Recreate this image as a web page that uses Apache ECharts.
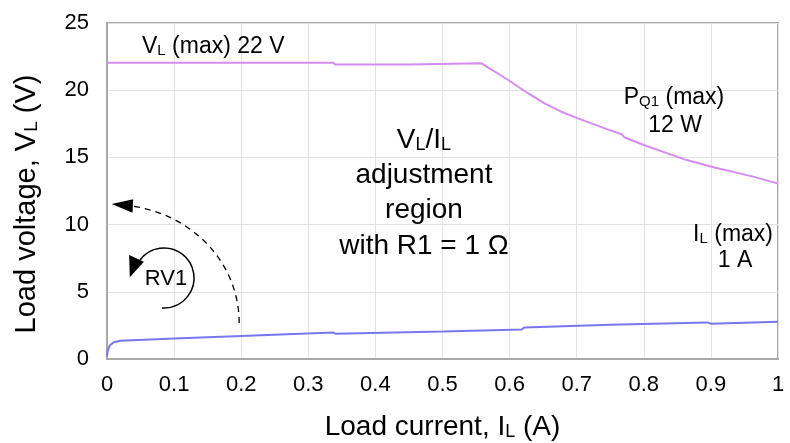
<!DOCTYPE html>
<html>
<head>
<meta charset="utf-8">
<script src="https://cdn.jsdelivr.net/npm/echarts@6/dist/echarts.min.js"></script>
<style>
  html, body { margin: 0; padding: 0; background: #fff; }
  #chart { width: 790px; height: 443px; }
</style>
</head>
<body>
<div id="chart"></div>
<script>
// load current (A) vs load voltage (V)
const vMaxCurrent = [0, 0.1, 0.2, 0.337, 0.34, 0.45, 0.558, 0.598, 0.625, 0.652, 0.677, 0.702, 0.745, 0.767, 0.771, 0.8, 0.864, 0.901, 0.963, 1]
const vMaxVoltage = [22.05, 22.05, 22.05, 22.05, 21.92, 21.92, 22.0, 20.76, 19.85, 19.02, 18.4, 17.9, 17.1, 16.72, 16.5, 15.92, 14.8, 14.3, 13.57, 13.05]

const vMinCurrent = [0, 0.001, 0.004, 0.01, 0.02, 0.1, 0.2, 0.337, 0.34, 0.5, 0.618, 0.622, 0.75, 0.895, 0.9, 1]
const vMinVoltage = [0.2, 0.6, 1.0, 1.25, 1.36, 1.52, 1.72, 1.98, 1.88, 2.05, 2.2, 2.35, 2.55, 2.72, 2.62, 2.78]

const xMin = 0
const xMax = 1
const xStep = 0.1
const yMin = 0
const yMax = 25
const yStep = 5

const font = 'Liberation Sans'
const frameColor = '#a8a8a8'
const gridColor = '#e2e2e2'

const zip = (xs, ys) => xs.map((x, i) => [x, ys[i]])

const chart = echarts.init(document.getElementById('chart'), null, { renderer: 'canvas' })

const subRich = (size) => ({
  s: { fontSize: size, fontFamily: font, color: '#000', verticalAlign: 'bottom' }
})

chart.setOption({
  animation: false,
  backgroundColor: '#fff',
  grid: {
    left: 107,
    right: 12,
    top: 23,
    bottom: 84,
    outerBoundsMode: 'none',
    containLabel: false,
    show: true,
    borderColor: frameColor,
    borderWidth: 2
  },
  xAxis: {
    type: 'value',
    min: xMin,
    max: xMax,
    interval: xStep,
    name: 'Load current, I{s|L} (A)',
    nameLocation: 'middle',
    nameGap: 54,
    nameTextStyle: { fontSize: 28, fontFamily: font, color: '#000', rich: subRich(18) },
    axisLine: { lineStyle: { color: frameColor, width: 2 } },
    axisTick: { show: false },
    axisLabel: { fontSize: 22, fontFamily: font, color: '#000', margin: 15 },
    splitLine: { show: true, lineStyle: { color: gridColor, width: 1 } }
  },
  yAxis: {
    type: 'value',
    min: yMin,
    max: yMax,
    interval: yStep,
    name: 'Load voltage, V{s|L} (V)',
    nameLocation: 'middle',
    nameGap: 66,
    nameRotate: 90,
    nameTextStyle: { fontSize: 29, fontFamily: font, color: '#000', padding: [0, 26, 0, 0], rich: subRich(19) },
    axisLine: { show: true, lineStyle: { color: frameColor, width: 2 } },
    axisTick: { show: false },
    axisLabel: { fontSize: 22, fontFamily: font, color: '#000', margin: 18 },
    splitLine: { show: true, lineStyle: { color: gridColor, width: 1 } }
  },
  series: [
    {
      name: 'VL max',
      type: 'line',
      data: zip(vMaxCurrent, vMaxVoltage),
      showSymbol: false,
      lineStyle: { color: '#d58cf0', width: 2 }
    },
    {
      name: 'VL min',
      type: 'line',
      data: zip(vMinCurrent, vMinVoltage),
      showSymbol: false,
      lineStyle: { color: '#7878ee', width: 2 }
    }
  ]
})

// annotations, anchored in data space
const px = (x, y) => chart.convertToPixel({ gridIndex: 0 }, [x, y])

function label(x, y, text, size, opts) {
  const p = px(x, y)
  return {
    type: 'text',
    x: p[0],
    y: p[1],
    style: Object.assign({
      text: text,
      fontSize: size,
      fontFamily: font,
      fill: '#000',
      align: 'center',
      verticalAlign: 'middle',
      rich: {
        s: { fontSize: Math.round(size * 0.64), fontFamily: font, fill: '#000', verticalAlign: 'bottom' }
      }
    }, opts || {})
  }
}

const dashStart = px(0.197, 2.68)
const dashCp1 = px(0.197, 7.0)
const dashCp2 = px(0.131, 10.7)
const dashEnd = px(0.037, 11.38)
const rvCenter = px(0.085, 6.03)

chart.setOption({
  graphic: [
    label(0.0522, 23.21, 'V{s|L} (max) 22 V', 23, { align: 'left' }),
    label(0.4724, 16.29, 'V{s|L}/I{s|L}', 28),
    label(0.4724, 13.69, 'adjustment', 28),
    label(0.4724, 11.09, 'region', 28),
    label(0.4724, 8.41, 'with R1 = 1 Ω', 28),
    label(0.845, 19.46, 'P{s|Q1} (max)', 23),
    label(0.8465, 17.39, '12 W', 23),
    label(0.933, 9.23, 'I{s|L} (max)', 23),
    label(0.936, 7.29, '1 A', 23),
    label(0.088, 5.95, 'RV1', 22),
    {
      type: 'bezierCurve',
      shape: {
        x1: dashStart[0], y1: dashStart[1],
        cpx1: dashCp1[0], cpy1: dashCp1[1],
        cpx2: dashCp2[0], cpy2: dashCp2[1],
        x2: dashEnd[0], y2: dashEnd[1]
      },
      style: { stroke: '#000', lineWidth: 1.3, lineDash: [6, 5], fill: null }
    },
    {
      type: 'polygon',
      shape: { points: [px(0.007, 11.53), px(0.039, 11.88), px(0.038, 10.89)] },
      style: { fill: '#000' }
    },
    {
      type: 'arc',
      shape: { cx: rvCenter[0], cy: rvCenter[1], r: 30, startAngle: -2.5, endAngle: 1.64, clockwise: true },
      style: { stroke: '#000', lineWidth: 1.5, fill: null }
    },
    {
      type: 'polygon',
      shape: { points: [px(0.033, 7.74), px(0.055, 7.24), px(0.034, 6.08)] },
      style: { fill: '#000' }
    }
  ]
})
</script>
</body>
</html>
